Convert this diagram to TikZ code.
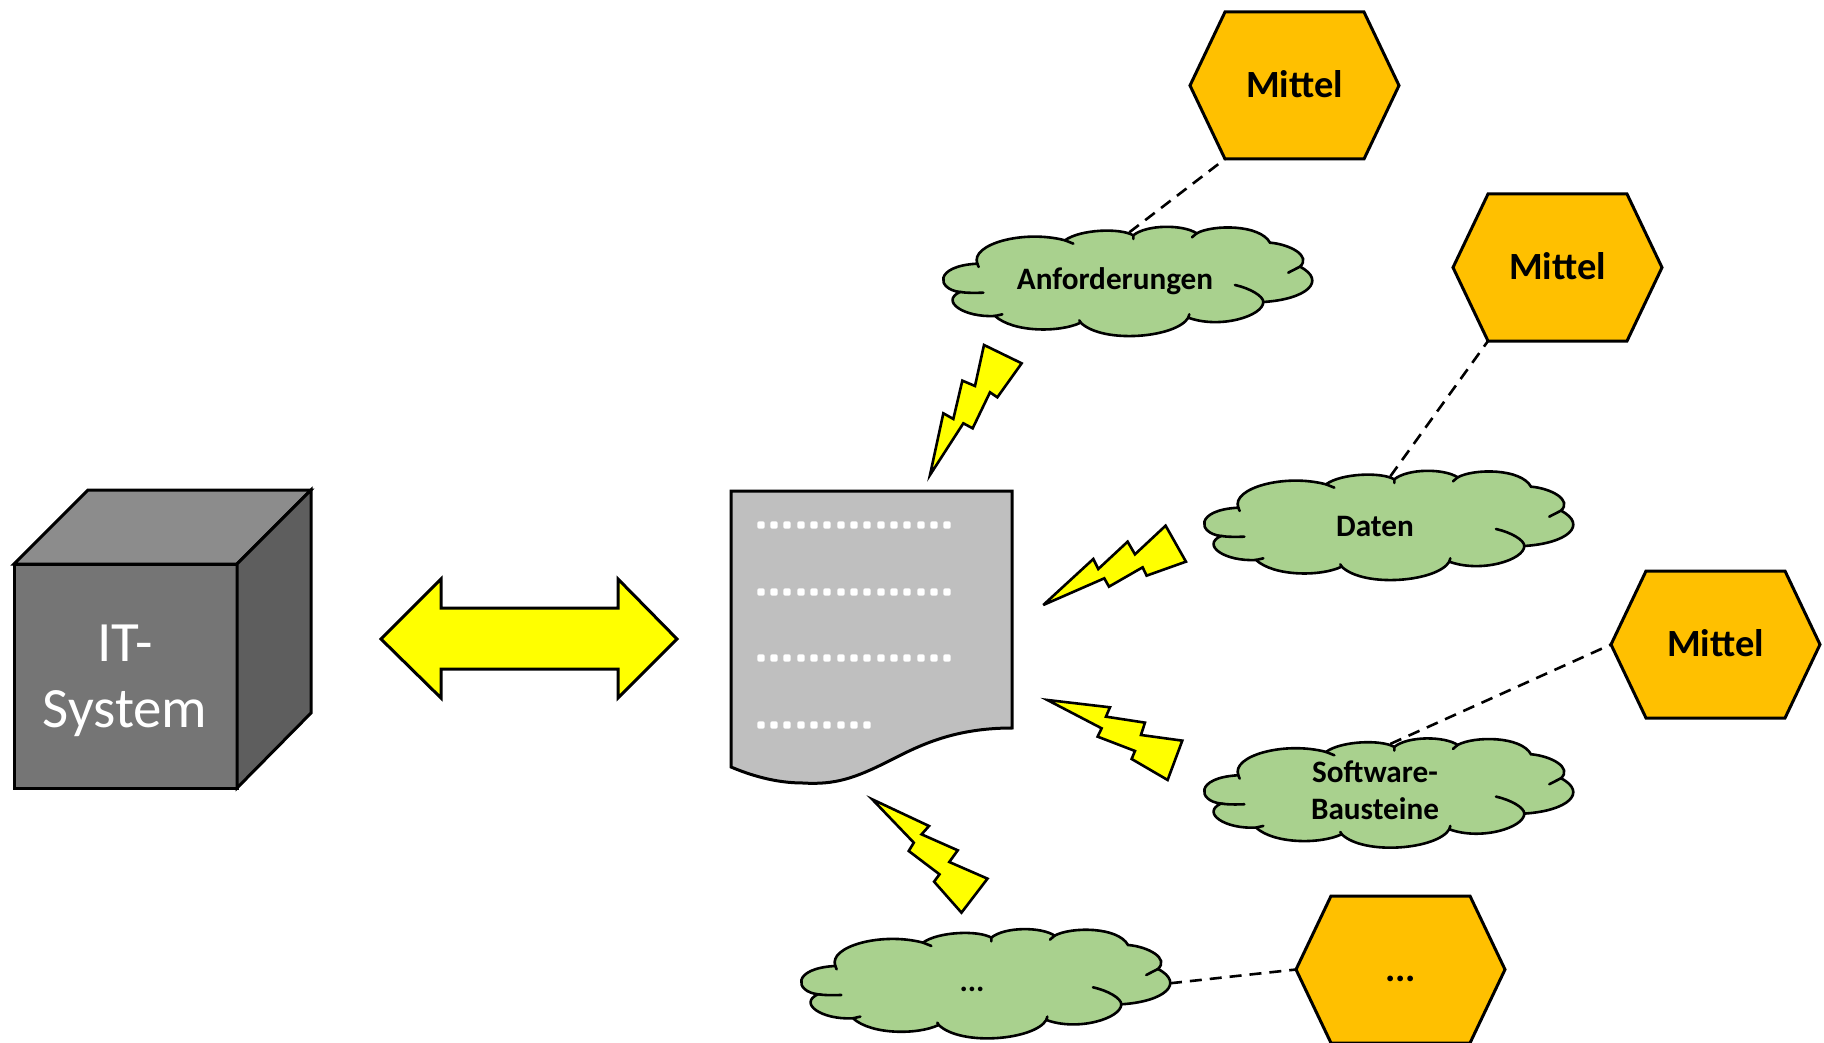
\documentclass[tikz,border=0pt]{standalone}
\usepackage{fontspec}
\setmainfont{Carlito}
\definecolor{hexfill}{HTML}{FFC000}
\definecolor{cloudfill}{HTML}{A9D18E}
\definecolor{docfill}{HTML}{BFBFBF}
\definecolor{boltfill}{HTML}{FFFF00}
\definecolor{cubefront}{HTML}{757575}
\definecolor{cubetop}{HTML}{8C8C8C}
\definecolor{cubeside}{HTML}{5E5E5E}
\tikzset{
  outline/.style={draw=black,line width=3pt,line join=miter},
  hexshape/.style={outline,fill=hexfill},
  boltshape/.style={draw=black,line width=2.6pt,fill=boltfill,line join=miter,miter limit=6},
  cloudshape/.style={draw=black,line width=2.6pt,fill=cloudfill},
  tickline/.style={draw=black,line width=2.6pt,line cap=round},
  linkline/.style={draw=black,line width=2.6pt,dash pattern=on 12pt off 8pt},
  hextext/.style={inner sep=0pt,font=\fontsize{38.5}{40}\selectfont\bfseries},
  cloudtext/.style={inner sep=0pt,align=center,font=\fontsize{31.2}{37}\selectfont\bfseries},
}
% hexagon: name, left, top, text, vertical text offset
\newcommand{\hexa}[5]{%
  \path[hexshape] (#2,#3+73.5) -- (#2+35,#3) -- (#2+174,#3) -- (#2+209,#3+73.5) -- (#2+174,#3+147) -- (#2+35,#3+147) -- cycle;
  \node[hextext] (#1) at (#2+104.5,#3+72.5+#5) {#4};
  \coordinate (#1-l) at (#2,#3+73.5);
  \coordinate (#1-bl) at (#2+35,#3+147);
}
% cloud: name, dx, dy (shape drawn in 1/3-pixel units of the first cloud)
\newcommand{\wolke}[3]{%
  \begin{scope}[shift={(920+#2,201+#3)},x=0.3333pt,y=-0.3333pt]
  \path[cloudshape] (435,118) .. controls (480,85) and (600,80) .. (640,103)
    .. controls (680,70) and (790,70) .. (830,97)
    .. controls (880,70) and (1020,70) .. (1050,125)
    .. controls (1110,130) and (1175,165) .. (1140,197)
    .. controls (1222,240) and (1160,295) .. (1030,303)
    .. controls (1030,345) and (900,385) .. (805,350)
    .. controls (770,410) and (550,430) .. (482,365)
    .. controls (420,395) and (280,395) .. (225,345)
    .. controls (130,350) and (60,300) .. (120,273)
    .. controls (50,265) and (40,195) .. (172,188)
    .. controls (150,130) and (310,85) .. (435,118) -- cycle;
  \path[tickline] (435,118) -- (460,128) (640,103) -- (640,114) (830,97) -- (816,109)
    (1140,197) -- (1105,215) (945,252) .. controls (990,262) and (1030,285) .. (1030,303)
    (805,350) -- (808,340) (482,365) -- (478,358) (225,345) -- (247,340)
    (120,273) .. controls (140,276) and (165,276) .. (190,275) (172,188) -- (176,198);
  \coordinate (#1-t) at (628,94);
  \coordinate (#1-r) at (1176,240);
  \end{scope}
}
\begin{document}
\begin{tikzpicture}[x=1pt,y=-1pt]
\useasboundingbox (0,0) rectangle (1824,1043);
% cube
\path[outline,fill=cubefront] (14,564) rectangle (237,788);
\path[outline,fill=cubetop] (14,564) -- (88,490) -- (311,490) -- (237,564) -- cycle;
\path[outline,fill=cubeside] (237,564) -- (311,490) -- (311,713) -- (237,788) -- cycle;
\node[inner sep=0pt,align=center,text=white,font=\fontsize{57}{66}\selectfont] (itsystem) at (125,681) {IT-\\System};
% double arrow
\path[outline,fill=boltfill] (381,639) -- (441,579) -- (441,608) -- (618,608) -- (618,579) -- (677,639) -- (618,698) -- (618,669) -- (441,669) -- (441,698) -- cycle;
% document
\path[outline,fill=docfill] (731,491) -- (1012,491) -- (1012,728)
  .. controls (950,728) and (915,748) .. (887,762)
  .. controls (855,778) and (835,785) .. (803,783)
  .. controls (775,783) and (750,775) .. (731,767) -- cycle;
\foreach \r/\n in {525/15,592/15,658/15,725/9}{
  \foreach \x [count=\i] in {761,774,787,801,814,827,841,854,867,881,894,907,921,934,947}{
    \ifnum\i>\n\else
      \fill[white,rounded corners=2pt] (\x-3.7,\r-3.7) rectangle (\x+3.7,\r+3.7);
    \fi
  }
}
% bolts
\begin{scope}[shift={(920,200)},x=0.3333pt,y=-0.3333pt]
\path[boltshape] (30,825) -- (70,640) -- (100,657) -- (127,542) -- (165,558) -- (192,435) -- (305,490) -- (232,592) -- (210,577) -- (158,685) -- (130,670) -- cycle;
\end{scope}
\begin{scope}[shift={(700,460)},x=0.3333pt,y=-0.3333pt]
\path[boltshape] (1030,435) -- (1180,297) -- (1195,327) -- (1283,245) -- (1305,283) -- (1397,197) -- (1458,305) -- (1340,347) -- (1328,322) -- (1227,380) -- (1213,355) -- cycle;
\path[boltshape] (1042,720) -- (1230,742) -- (1218,770) -- (1335,788) -- (1323,825) -- (1447,842) -- (1403,960) -- (1295,897) -- (1305,873) -- (1193,830) -- (1205,805) -- cycle;
\end{scope}
\begin{scope}[shift={(783,781)},x=0.338pt,y=-0.3333pt]
\path[boltshape] (264,55) -- (432,135) -- (410,160) -- (517,208) -- (492,243) -- (605,293) -- (528,395) -- (447,302) -- (463,280) -- (372,210) -- (387,185) -- cycle;
\end{scope}
% clouds
\wolke{wa}{0}{0}
\wolke{wb}{261}{244}
\wolke{wc}{261}{511.6}
\wolke{wd}{-142}{702.3}
\node[cloudtext] (ta) at (1115,281) {Anforderungen};
\node[cloudtext] (tb) at (1375,526) {Daten};
\node[cloudtext] (tc) at (1375,790) {Software-\\Bausteine};
\node[cloudtext] (td) at (972,989) {...};
% hexagons
\hexa{ha}{1190}{12}{Mittel}{0}
\hexa{hb}{1453}{194}{Mittel}{0}
\hexa{hc}{1611}{571}{Mittel}{0}
\hexa{hd}{1296}{896}{...}{10.5}
% links
\draw[linkline] (wa-t) -- (ha-bl);
\draw[linkline] (wb-t) -- (hb-bl);
\draw[linkline] (wc-t) -- (hc-l);
\draw[linkline] (wd-r) -- (hd-l);
\end{tikzpicture}
\end{document}
